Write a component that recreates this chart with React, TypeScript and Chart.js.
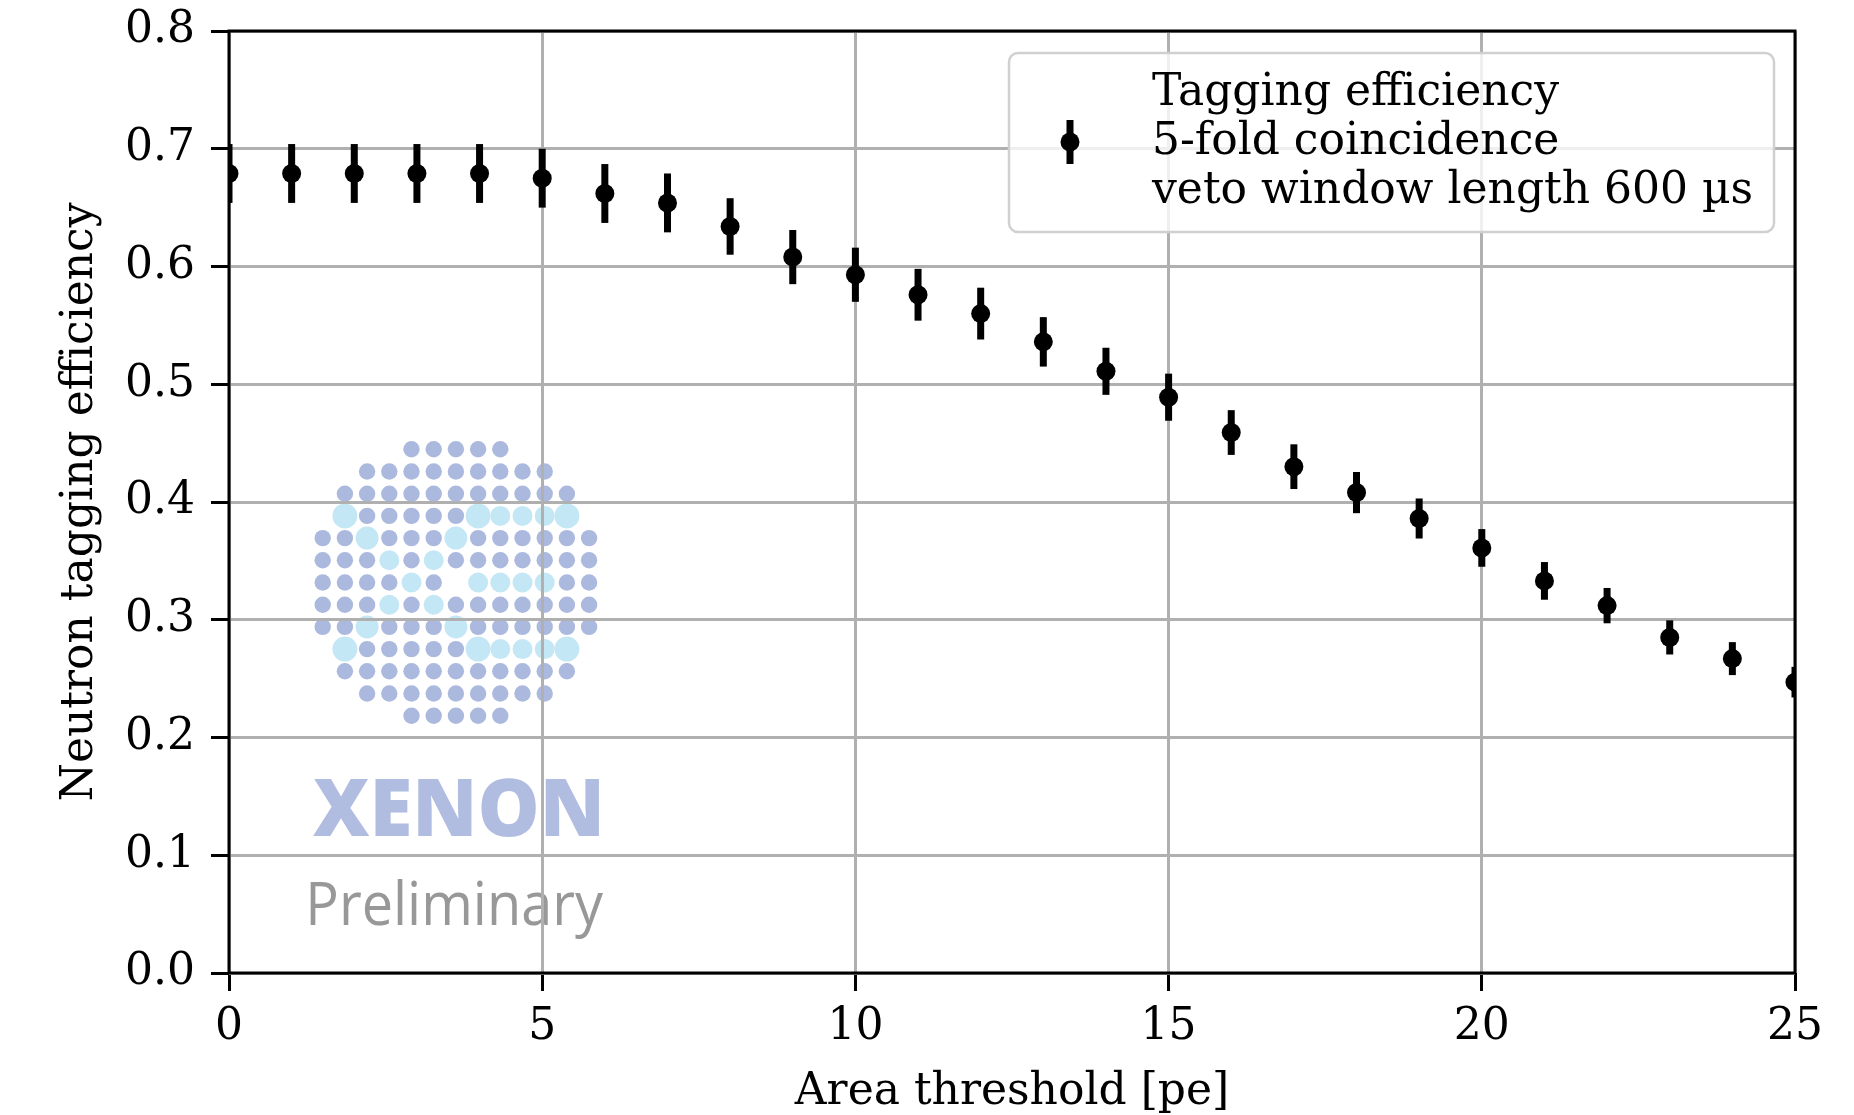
import React, { useEffect, useRef } from 'react';
import { Chart, registerables } from 'chart.js';

Chart.register(...registerables);

// ---------- data ----------
const thresholds = [0, 1, 2, 3, 4, 5, 6, 7, 8, 9, 10, 11, 12, 13, 14, 15, 16, 17, 18, 19, 20, 21, 22, 23, 24, 25];
const efficiency = [0.679, 0.679, 0.679, 0.679, 0.679, 0.675, 0.662, 0.654, 0.634, 0.608, 0.593, 0.576, 0.560, 0.536, 0.511, 0.489, 0.459, 0.430, 0.408, 0.386, 0.361, 0.333, 0.312, 0.285, 0.267, 0.247];
const efficiencyErr = [0.025, 0.025, 0.025, 0.025, 0.025, 0.025, 0.025, 0.025, 0.024, 0.023, 0.023, 0.022, 0.022, 0.021, 0.020, 0.020, 0.019, 0.019, 0.0175, 0.017, 0.016, 0.016, 0.015, 0.0145, 0.014, 0.013];
const xTicks = [0, 5, 10, 15, 20, 25];
const yTicks = [0, 0.1, 0.2, 0.3, 0.4, 0.5, 0.6, 0.7, 0.8];
const legendLines = ['Tagging efficiency', '5-fold coincidence', 'veto window length 600 µs'];
const xTitle = 'Area threshold [pe]';
const yTitle = 'Neutron tagging efficiency';
const logoRows = [
  '....ooooo....',
  '..ooooooooo..',
  '.ooooooooooo.',
  '.BoooooBcccB.',
  'oomooomoooooo',
  'ooococooooooo',
  'ooooco.ccccoo',
  'ooococooooooo',
  'oomooomoooooo',
  '.BoooooBcccB.',
  '.ooooooooooo.',
  '..ooooooooo..',
  '....ooooo....',
];

// ---------- layout ----------
const W = 1854;
const H = 1115;
const FONT = 'DejaVu Serif';
const FS = 44;
const PLOT_L = 229;
const PLOT_R = 1795;
const PLOT_T = 31;
const PLOT_B = 973;

const logoPlugin = {
  id: 'logo',
  beforeDraw(chart: any) {
    const ctx = chart.ctx as CanvasRenderingContext2D;
    ctx.save();
    const x0 = 322.7, y0 = 449.3, step = 22.2;
    const radii: Record<string, number> = { o: 8.2, c: 10, m: 11.5, B: 12.5 };
    logoRows.forEach((row, r) => {
      for (let c = 0; c < row.length; c++) {
        const ch = row[c];
        if (ch === '.') continue;
        ctx.fillStyle = ch === 'o' ? 'rgb(172,185,222)' : 'rgb(196,231,245)';
        ctx.beginPath();
        ctx.arc(x0 + step * c, y0 + step * r, radii[ch], 0, Math.PI * 2);
        ctx.fill();
      }
    });
    const fitText = (text: string, weight: string, color: string, xl: number, xr: number, capTop: number, base: number, refChar: string) => {
      ctx.font = `${weight} 100px "Open Sans"`;
      const mRef = ctx.measureText(refChar);
      const size = (100 * (base - capTop)) / mRef.actualBoundingBoxAscent;
      ctx.font = `${weight} ${size}px "Open Sans"`;
      const m = ctx.measureText(text);
      const ink = m.actualBoundingBoxLeft + m.actualBoundingBoxRight;
      const sx = (xr - xl) / ink;
      ctx.save();
      ctx.translate(xl, base);
      ctx.scale(sx, 1);
      ctx.fillStyle = color;
      ctx.textBaseline = 'alphabetic';
      ctx.textAlign = 'left';
      ctx.fillText(text, m.actualBoundingBoxLeft, 0);
      ctx.restore();
    };
    fitText('XENON', '800', 'rgb(176,189,224)', 313, 599, 779, 836, 'X');
    fitText('Preliminary', '400', 'rgb(152,152,152)', 310, 603, 882, 925, 'P');
    ctx.restore();
  },
};

const errorBarPlugin = {
  id: 'errorBars',
  beforeDatasetsDraw(chart: any) {
    const { ctx, chartArea, scales } = chart;
    const xs = scales.x, ys = scales.y;
    ctx.save();
    ctx.beginPath();
    ctx.rect(chartArea.left, chartArea.top, chartArea.right - chartArea.left, chartArea.bottom - chartArea.top);
    ctx.clip();
    ctx.strokeStyle = '#000';
    ctx.lineWidth = 7;
    ctx.lineCap = 'butt';
    thresholds.forEach((t, i) => {
      const px = xs.getPixelForValue(t);
      ctx.beginPath();
      ctx.moveTo(px, ys.getPixelForValue(efficiency[i] - efficiencyErr[i]));
      ctx.lineTo(px, ys.getPixelForValue(efficiency[i] + efficiencyErr[i]));
      ctx.stroke();
    });
    ctx.restore();
  },
};

const framePlugin = {
  id: 'frame',
  afterDatasetsDraw(chart: any) {
    const { ctx, chartArea } = chart;
    ctx.save();
    ctx.strokeStyle = '#000';
    ctx.lineWidth = 3;
    ctx.strokeRect(chartArea.left, chartArea.top, chartArea.right - chartArea.left, chartArea.bottom - chartArea.top);
    ctx.restore();
  },
};

const legendPlugin = {
  id: 'legendBox',
  afterDraw(chart: any) {
    const { ctx } = chart;
    ctx.save();
    const bl = 1009, br = 1774, bt = 53, bb = 232;
    ctx.beginPath();
    (ctx as any).roundRect(bl, bt, br - bl, bb - bt, 9);
    ctx.fillStyle = 'rgba(255,255,255,0.8)';
    ctx.fill();
    ctx.strokeStyle = 'rgb(208,208,208)';
    ctx.lineWidth = 2.5;
    ctx.stroke();
    // error bar symbol
    const mx = 1070;
    ctx.strokeStyle = '#000';
    ctx.lineWidth = 7;
    ctx.beginPath();
    ctx.moveTo(mx, 120);
    ctx.lineTo(mx, 164);
    ctx.stroke();
    ctx.fillStyle = '#000';
    ctx.beginPath();
    ctx.arc(mx, 142, 9.5, 0, Math.PI * 2);
    ctx.fill();
    // text
    ctx.font = `${FS}px "${FONT}"`;
    ctx.textAlign = 'left';
    ctx.textBaseline = 'alphabetic';
    legendLines.forEach((line, i) => {
      ctx.fillText(line, 1152, 104.5 + 49.3 * i);
    });
    ctx.restore();
  },
};

export default function App() {
  const ref = useRef<HTMLCanvasElement | null>(null);
  useEffect(() => {
    if (!ref.current) return;
    const tickFont = { family: FONT, size: FS };
    const chart = new Chart(ref.current, {
      type: 'scatter',
      data: {
        datasets: [
          {
            label: legendLines.join(' '),
            data: thresholds.map((x, i) => ({ x, y: efficiency[i] })),
            pointRadius: 9.5,
            pointHoverRadius: 9.5,
            pointBorderWidth: 0,
            pointBackgroundColor: '#000',
            backgroundColor: '#000',
            borderColor: '#000',
            showLine: false,
            clip: 0,
          } as any,
        ],
      },
      options: {
        animation: false,
        responsive: false,
        maintainAspectRatio: false,
        events: [],
        layout: { padding: { top: PLOT_T, right: W - PLOT_R, left: 0, bottom: 0 } },
        plugins: { legend: { display: false }, tooltip: { enabled: false } },
        scales: {
          x: {
            type: 'linear',
            min: 0,
            max: 25,
            afterFit: (s: any) => { s.height = H - PLOT_B; s.paddingLeft = 0; s.paddingRight = 0; },
            afterBuildTicks: (s: any) => { s.ticks = xTicks.map((v) => ({ value: v })); },
            ticks: { font: tickFont, color: '#000', padding: 10, maxRotation: 0, autoSkip: false, callback: (v: any) => String(v) },
            grid: { color: '#b0b0b0', lineWidth: 3, tickColor: '#000', tickWidth: 3, tickLength: 18 },
            border: { display: false },
            title: { display: true, text: xTitle, color: '#000', font: { family: FONT, size: FS, lineHeight: 1 }, padding: { top: 0, bottom: 0 } },
          },
          y: {
            type: 'linear',
            min: 0,
            max: 0.8,
            afterFit: (s: any) => { s.width = PLOT_L; s.paddingTop = 0; s.paddingBottom = 0; },
            afterBuildTicks: (s: any) => { s.ticks = yTicks.map((v) => ({ value: v })); },
            ticks: { font: tickFont, color: '#000', padding: 16, autoSkip: false, callback: (v: any) => Number(v).toFixed(1) },
            grid: { color: '#b0b0b0', lineWidth: 3, tickColor: '#000', tickWidth: 3, tickLength: 18 },
            border: { display: false },
            title: { display: true, text: yTitle, color: '#000', font: { family: FONT, size: FS, lineHeight: 1 }, padding: { top: 58.5, bottom: 0 } },
          },
        },
      },
      plugins: [logoPlugin, errorBarPlugin, framePlugin, legendPlugin],
    });
    return () => chart.destroy();
  }, []);
  return (
    <div style={{ position: 'absolute', left: 0, top: 0, width: W, height: H, overflow: 'hidden', background: '#fff' }}>
      <canvas ref={ref} width={W} height={H} style={{ display: 'block' }} />
    </div>
  );
}
